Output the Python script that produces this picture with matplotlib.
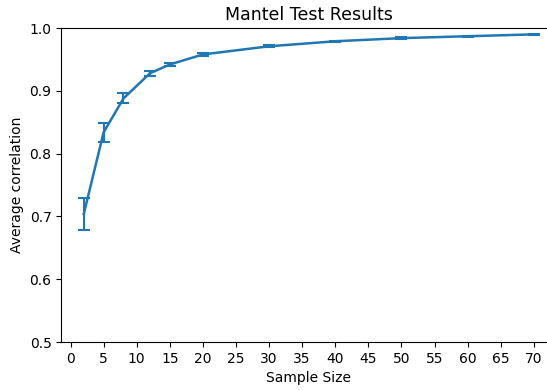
import matplotlib
matplotlib.use("Agg")
import matplotlib.pyplot as plt

sample_sizes = [2, 5, 8, 12, 15, 20, 30, 40, 50, 60, 70]
avg_corr = [0.704, 0.834, 0.888, 0.928, 0.942, 0.958, 0.971, 0.979, 0.984, 0.987, 0.990]
corr_err = [0.026, 0.015, 0.008, 0.004, 0.003, 0.002, 0.0015, 0.001, 0.001, 0.001, 0.001]
xticks = list(range(0, 75, 5))
yticks = [0.5, 0.6, 0.7, 0.8, 0.9, 1.0]

fig = plt.figure(figsize=(5.47, 3.9), dpi=100)
ax = fig.add_axes([0.112, 0.123, 0.905, 0.805])
ax.errorbar(sample_sizes, avg_corr, yerr=corr_err, color='#1f77b4',
            linewidth=1.8, capsize=4.3, elinewidth=1.5, capthick=1.5)
ax.set_xticks(xticks)
ax.set_yticks(yticks)
ax.set_xlim(-1.4, 73.4)
ax.set_ylim(0.5, 1.0)
ax.set_xlabel('Sample Size')
ax.set_ylabel('Average correlation')
ax.set_title('Mantel Test Results', fontsize=12.5)
fig.savefig('out.png', dpi=100)
